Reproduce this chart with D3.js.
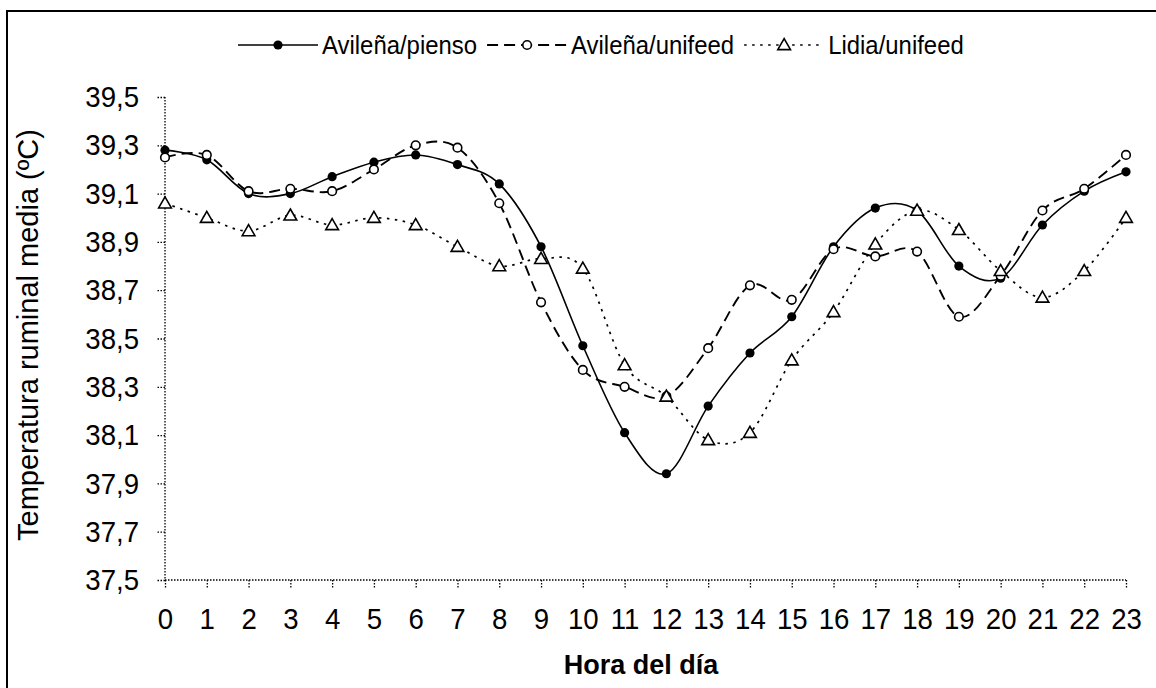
<!DOCTYPE html>
<html><head><meta charset="utf-8">
<script src="https://cdnjs.cloudflare.com/ajax/libs/d3/7.8.5/d3.min.js"></script>
<style>
html,body{margin:0;padding:0;background:#fff;}
svg{display:block;}
text{font-family:"Liberation Sans",Arial,sans-serif;fill:#000;}
</style></head>
<body>
<svg id="chart" width="1156" height="688"></svg>
<script>
const hours = [0,1,2,3,4,5,6,7,8,9,10,11,12,13,14,15,16,17,18,19,20,21,22,23];
const avilenaPienso = [39.28,39.24,39.10,39.10,39.17,39.23,39.26,39.22,39.14,38.88,38.47,38.11,37.94,38.22,38.44,38.59,38.88,39.04,39.03,38.80,38.75,38.97,39.11,39.19];
const avilenaUnifeed = [39.25,39.26,39.11,39.12,39.11,39.20,39.30,39.29,39.06,38.65,38.37,38.30,38.26,38.46,38.72,38.66,38.87,38.84,38.86,38.59,38.76,39.03,39.12,39.26];
const lidiaUnifeed = [39.06,39.00,38.945,39.01,38.97,39.00,38.97,38.88,38.80,38.83,38.79,38.39,38.26,38.08,38.11,38.41,38.61,38.89,39.03,38.95,38.78,38.67,38.78,39.00];
const yTicks = [37.5,37.7,37.9,38.1,38.3,38.5,38.7,38.9,39.1,39.3,39.5];
const seriesNames = ["Avileña/pienso","Avileña/unifeed","Lidia/unifeed"];
const yTitle = "Temperatura ruminal media (ºC)";
const xTitle = "Hora del día";

const SX = 0.92; // horizontal condensing of text glyphs
const svg = d3.select("#chart");
// outer border
svg.append("rect").attr("x",7).attr("y",11).attr("width",1160).attr("height",700)
  .attr("fill","none").attr("stroke","#000").attr("stroke-width",2);

const x = d3.scaleLinear().domain([0,23]).range([165,1126]);
const y = d3.scaleLinear().domain([37.5,39.5]).range([580,97]);

// y axis
const yAxis = svg.append("g").attr("transform","translate(165,0)")
  .call(d3.axisLeft(y).tickValues(yTicks).tickSize(9).tickPadding(17)
    .tickFormat(d => d3.format(".1f")(d).replace(".",",")));
yAxis.select(".domain").remove();
yAxis.append("line").attr("x1",0).attr("x2",0).attr("y1",y(39.5)).attr("y2",y(37.5))
  .attr("stroke","#000").attr("stroke-width",1.3).attr("stroke-dasharray","1.5,1.5");
yAxis.selectAll(".tick line").attr("stroke","#000").attr("stroke-width",1.3).attr("stroke-dasharray","1.5,1.5");
yAxis.selectAll(".tick text").attr("font-size",30).attr("fill","#000")
  .style("font-family","'Liberation Sans',Arial,sans-serif")
  .attr("x",-26/SX).attr("transform","scale("+SX+",1)");

// x axis
const xAxis = svg.append("g").attr("transform","translate(0,580)")
  .call(d3.axisBottom(x).tickValues(hours).tickSize(9).tickPadding(19).tickFormat(d => String(d)));
xAxis.select(".domain").remove();
xAxis.append("line").attr("x1",x(0)).attr("x2",x(23)).attr("y1",0).attr("y2",0)
  .attr("stroke","#000").attr("stroke-width",1.3).attr("stroke-dasharray","1.5,1.5");
xAxis.selectAll(".tick line").attr("stroke","#000").attr("stroke-width",1.3).attr("stroke-dasharray","1.5,1.5");
xAxis.selectAll(".tick text").attr("font-size",30).attr("fill","#000")
  .style("font-family","'Liberation Sans',Arial,sans-serif")
  .attr("transform","scale("+SX+",1)");

// titles
svg.append("text").attr("x",641).attr("y",674).attr("text-anchor","middle")
  .attr("font-size",27).attr("font-weight","bold").text(xTitle);
svg.append("text").attr("transform","translate(38,335) rotate(-90)")
  .attr("text-anchor","middle").attr("font-size",29).text(yTitle);

const line = d3.line().x((d,i)=>x(hours[i])).y(d=>y(d)).curve(d3.curveCatmullRom.alpha(0));

const styles = [
  {data:avilenaPienso, dash:null, width:1.6, marker:"filled"},
  {data:avilenaUnifeed, dash:"11,6", width:1.9, marker:"open"},
  {data:lidiaUnifeed, dash:"2.5,5.5", width:1.7, marker:"tri"}
];

function drawMarker(g, type, cx, cy){
  if(type==="filled"){
    g.append("circle").attr("cx",cx).attr("cy",cy).attr("r",4.6).attr("fill","#000");
  } else if(type==="open"){
    g.append("circle").attr("cx",cx).attr("cy",cy).attr("r",4.3).attr("fill","#fff")
      .attr("stroke","#000").attr("stroke-width",1.6);
  } else {
    g.append("path").attr("d",d3.symbol(d3.symbolTriangle,70)())
      .attr("transform","translate("+cx+","+(cy+1)+")")
      .attr("fill","#fff").attr("stroke","#000").attr("stroke-width",1.6);
  }
}

styles.forEach(s=>{
  svg.append("path").datum(s.data).attr("d",line).attr("fill","none")
    .attr("stroke","#000").attr("stroke-width",s.width)
    .attr("stroke-dasharray",s.dash);
});
styles.forEach(s=>{
  const g = svg.append("g");
  s.data.forEach((v,i)=>drawMarker(g, s.marker, x(hours[i]), y(v)));
});

// legend
const leg = svg.append("g");
let lx = 238;
const ly = 45;
styles.forEach((s,i)=>{
  leg.append("line").attr("x1",lx).attr("x2",lx+80).attr("y1",ly).attr("y2",ly)
    .attr("stroke","#000").attr("stroke-width",s.width).attr("stroke-dasharray",s.dash);
  drawMarker(leg, s.marker, lx+40, ly);
  const t = leg.append("text").attr("transform","translate("+(lx+84)+","+(ly+9)+") scale("+SX+",1)")
    .attr("font-size",26).text(seriesNames[i]);
  lx = lx + 84 + t.node().getComputedTextLength()*SX + 10;
});
</script>
</body></html>
